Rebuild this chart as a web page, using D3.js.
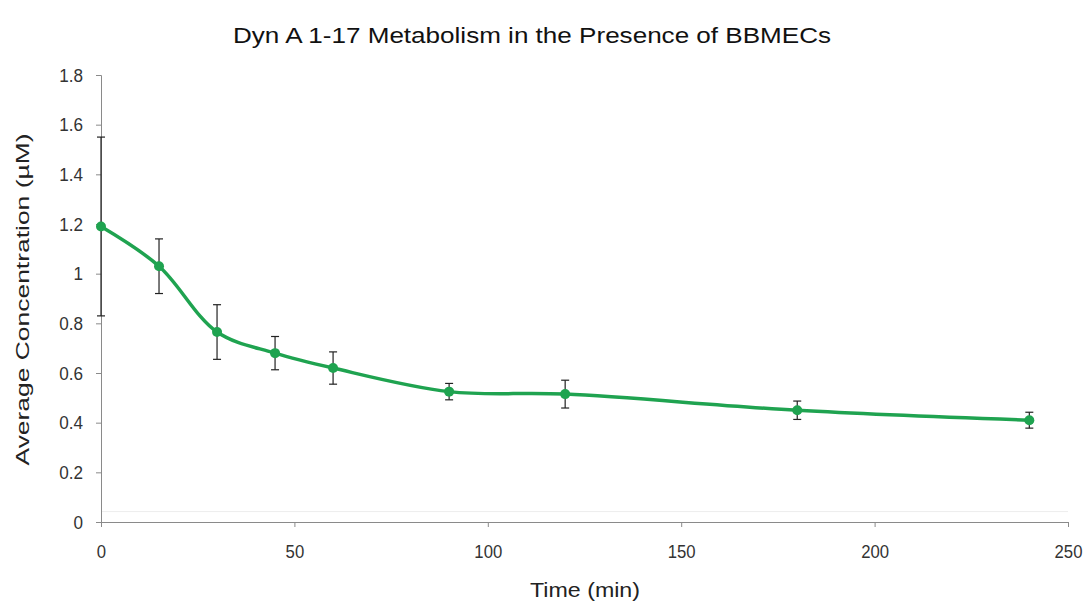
<!DOCTYPE html>
<html>
<head>
<meta charset="utf-8">
<script src="https://cdn.jsdelivr.net/npm/d3@7"></script>
<style>
  html, body { margin: 0; padding: 0; background: #fff; }
  svg { display: block; }
  text { font-family: "Liberation Sans", Arial, sans-serif; }
</style>
</head>
<body>
<svg id="chart" width="1090" height="608"></svg>
<script>
// Data
const times = [0, 15, 30, 45, 60, 90, 120, 180, 240];
const concentrations = [1.19, 1.03, 0.765, 0.68, 0.62, 0.525, 0.515, 0.45, 0.41];
const errors = [0.36, 0.11, 0.11, 0.067, 0.065, 0.033, 0.056, 0.037, 0.032];
const xTicks = [0, 50, 100, 150, 200, 250];
const yTicks = [0, 0.2, 0.4, 0.6, 0.8, 1, 1.2, 1.4, 1.6, 1.8];
const titleText = "Dyn A 1-17 Metabolism in the Presence of BBMECs";
const xTitle = "Time (min)";
const yTitle = "Average Concentration (\u00B5M)";

(function () {
const svg = d3.select("#chart");
const mLeft = 101, mRight = 1068, mTop = 75, mBottom = 522;

const x = d3.scaleLinear().domain([0, 250]).range([mLeft, mRight]);
const y = d3.scaleLinear().domain([0, 1.8]).range([mBottom, mTop]);

const axisColor = "#8a8a8a";
const labelColor = "#333";
const font = "'Liberation Sans', Arial, sans-serif";

// faint line just above the x axis, as in the reference
svg.append("line")
  .attr("x1", mLeft).attr("x2", mRight)
  .attr("y1", y(0.042)).attr("y2", y(0.042))
  .attr("stroke", "#ededed").attr("stroke-width", 1);

// Y axis
const yAxis = svg.append("g")
  .attr("transform", `translate(${mLeft},0)`)
  .call(d3.axisLeft(y).tickValues(yTicks).tickSize(5).tickPadding(13)
    .tickFormat(d => String(+d.toFixed(1))));
yAxis.select(".domain").attr("stroke", axisColor);
yAxis.selectAll(".tick line").attr("stroke", axisColor);
yAxis.selectAll(".tick text").attr("fill", labelColor).attr("font-size", 19)
  .attr("font-family", font)
  .attr("transform", "scale(0.9,1)")
  .attr("x", -18 / 0.9);

// X axis
const xAxis = svg.append("g")
  .attr("transform", `translate(0,${mBottom})`)
  .call(d3.axisBottom(x).tickValues(xTicks).tickSize(5).tickPadding(18));
xAxis.select(".domain").attr("stroke", axisColor);
xAxis.selectAll(".tick line").attr("stroke", axisColor);
xAxis.selectAll(".tick text").attr("fill", labelColor).attr("font-size", 19)
  .attr("font-family", font)
  .attr("transform", "scale(0.88,1)");

const data = times.map((t, i) => ({ t, v: concentrations[i], e: errors[i] }));

// Smoothed line
const line = d3.line().x(d => x(d.t)).y(d => y(d.v)).curve(d3.curveCatmullRom.alpha(0.5));
svg.append("path").datum(data)
  .attr("d", line)
  .attr("fill", "none")
  .attr("stroke", "#1fa350")
  .attr("stroke-width", 3.5);

// Error bars
const eb = svg.append("g").attr("stroke", "#222").attr("stroke-width", 1.2);
data.forEach(d => {
  eb.append("line").attr("x1", x(d.t)).attr("x2", x(d.t)).attr("y1", y(d.v + d.e)).attr("y2", y(d.v - d.e));
  eb.append("line").attr("x1", x(d.t) - 4).attr("x2", x(d.t) + 4).attr("y1", y(d.v + d.e)).attr("y2", y(d.v + d.e));
  eb.append("line").attr("x1", x(d.t) - 4).attr("x2", x(d.t) + 4).attr("y1", y(d.v - d.e)).attr("y2", y(d.v - d.e));
});

// Markers
svg.append("g").selectAll("circle").data(data).join("circle")
  .attr("cx", d => x(d.t)).attr("cy", d => y(d.v)).attr("r", 5)
  .attr("fill", "#1fa350");

// Title
svg.append("text")
  .attr("x", 532).attr("y", 43)
  .attr("text-anchor", "middle")
  .attr("font-size", 22)
  .attr("font-family", font)
  .attr("fill", "#111")
  .attr("textLength", 598).attr("lengthAdjust", "spacingAndGlyphs")
  .text(titleText);

// X axis title
svg.append("text")
  .attr("x", 585).attr("y", 597)
  .attr("text-anchor", "middle")
  .attr("font-size", 20)
  .attr("font-family", font)
  .attr("fill", "#222")
  .attr("textLength", 110).attr("lengthAdjust", "spacingAndGlyphs")
  .text(xTitle);

// Y axis title
svg.append("text")
  .attr("transform", `translate(29,${(mTop + mBottom) / 2 + 1}) rotate(-90)`)
  .attr("text-anchor", "middle")
  .attr("font-size", 19)
  .attr("font-family", font)
  .attr("fill", "#222")
  .attr("textLength", 332).attr("lengthAdjust", "spacingAndGlyphs")
  .text(yTitle);
})();
</script>
</body>
</html>
